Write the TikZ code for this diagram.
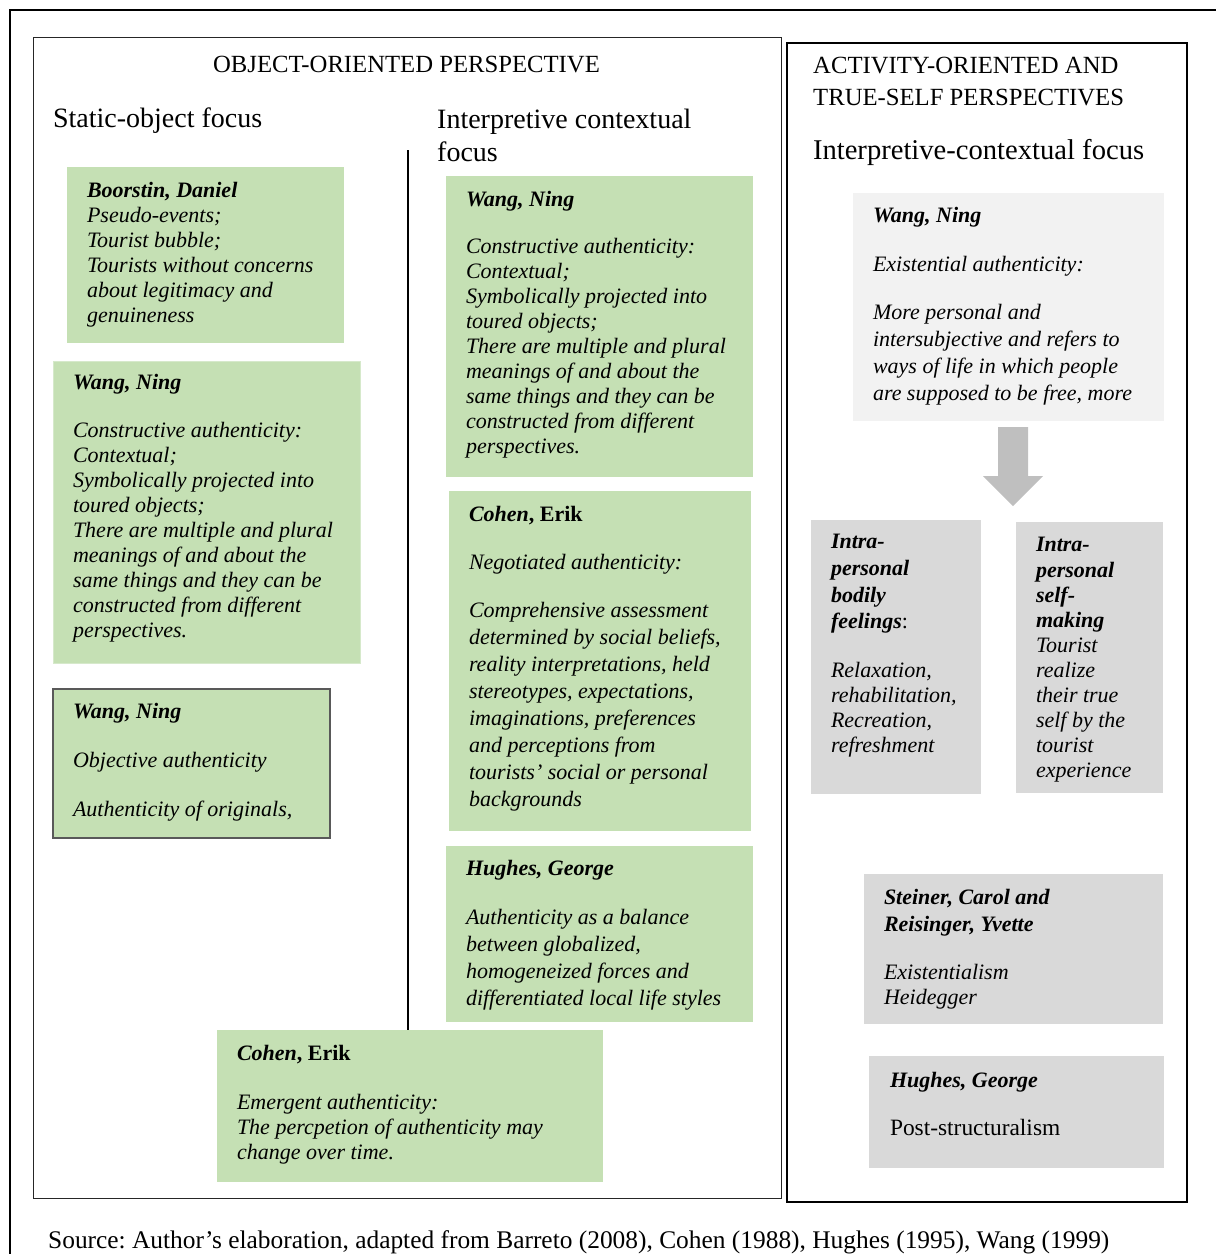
\documentclass[tikz,border=0pt]{standalone}
\usepackage{fontspec}
\setmainfont{Liberation Serif}
\frenchspacing
\definecolor{boxgreen}{HTML}{C5E0B4}
\definecolor{boxgray}{HTML}{D9D9D9}
\definecolor{boxpale}{HTML}{F2F2F2}
\definecolor{arrowgray}{HTML}{BFBFBF}
\definecolor{edgegray}{HTML}{595959}

\newcommand\capsfont{\fontsize{24.7pt}{32pt}\selectfont}
\newcommand\headfont{\fontsize{28pt}{33pt}\selectfont}
\newcommand\bodyfont[1]{\fontsize{22pt}{#1}\selectfont\itshape}
\newcommand\srcfont{\fontsize{25.4pt}{30pt}\selectfont}

\tikzset{
  panel/.style={anchor=north west, inner sep=0pt, outer sep=0pt, draw=none},
  greenpanel/.style={panel, fill=boxgreen},
  graypanel/.style={panel, fill=boxgray},
  palepanel/.style={panel, fill=boxpale},
  blocktext/.style={anchor=north west, inner sep=0pt, outer sep=0pt, align=left, font=\bodyfont{#1}},
  blocktext/.default=25pt,
  heading/.style={anchor=base west, inner sep=0pt, outer sep=0pt, font=\headfont},
}

\begin{document}
\begin{tikzpicture}[x=1pt, y=-1pt]
\useasboundingbox (0,0) rectangle (1216,1254);

% outer frame, open to the right and bottom
\draw[line width=2.8pt] (10,1254) -- (10,10) -- (1216,10);

% object-oriented panel
\draw[line width=1pt, black!85] (33,37) rectangle (781,1198);
% activity-oriented panel
\draw[line width=2.4pt] (787,43) rectangle (1187,1202);

% column divider
\coordinate (divtop) at (408,150);
\coordinate (divbot) at (408,1031);
\draw[line width=1.1pt] (divtop) -- (divbot);

% headings
\node[anchor=base, inner sep=0pt, font=\capsfont] (hobj) at (406.5,72) {OBJECT-ORIENTED PERSPECTIVE};
\node[heading] (hstatic) at (53,127) {Static-object focus};
\node[anchor=north west, inner sep=0pt, align=left, font=\headfont] (hinterp) at (437,104.9) {\strut Interpretive contextual\\ focus};
\node[anchor=north west, inner sep=0pt, align=left, font=\capsfont] (hact) at (813,50.6) {\strut ACTIVITY-ORIENTED AND\\ TRUE-SELF PERSPECTIVES};
\node[heading, font=\fontsize{28.6pt}{33pt}\selectfont] (hctx) at (813,159) {Interpretive-contextual focus};

% left column
\node[greenpanel, minimum width=277pt, minimum height=176pt] (boor) at (67,167) {};
\node[blocktext] (boort) at (87,179.5) {\strut\textbf{Boorstin, Daniel}\\ Pseudo-events;\\ Tourist bubble;\\ Tourists without concerns\\ about legitimacy and\\ genuineness};

\node[greenpanel, draw=boxgreen!70!white, minimum width=307pt, minimum height=302pt] (wanga) at (53,361) {};
\node[blocktext] (wangat) at (73,371.5) {\strut\textbf{Wang, Ning}\\[23pt] Constructive authenticity:\\ Contextual;\\ Symbolically projected into\\ toured objects;\\ There are multiple and plural\\ meanings of and about the\\ same things and they can be\\ constructed from different\\ perspectives.};

\node[greenpanel, draw=edgegray, line width=1.3pt, minimum width=277pt, minimum height=149pt] (wangobj) at (53,689) {};
\node[blocktext] (wangobjt) at (73,700.5) {\strut\textbf{Wang, Ning}\\[24pt] Objective authenticity\\[24pt] Authenticity of originals,};

% middle column
\node[greenpanel, minimum width=307pt, minimum height=301pt] (wangb) at (446,176) {};
\node[blocktext] (wangbt) at (466,188.5) {\strut\textbf{Wang, Ning}\\[22pt] Constructive authenticity:\\ Contextual;\\ Symbolically projected into\\ toured objects;\\ There are multiple and plural\\ meanings of and about the\\ same things and they can be\\ constructed from different\\ perspectives.};

\node[greenpanel, minimum width=302pt, minimum height=340pt] (cohenn) at (449,491) {};
\node[blocktext=27pt] (cohennt) at (469,502.1) {\strut\textbf{Cohen}\textbf{\upshape, Erik}\\[21pt] Negotiated authenticity:\\[21pt] Comprehensive assessment\\ determined by social beliefs,\\ reality interpretations, held\\ stereotypes, expectations,\\ imaginations, preferences\\ and perceptions from\\ tourists’ social or personal\\ backgrounds};

\node[greenpanel, minimum width=307pt, minimum height=176pt] (hughesa) at (446,846) {};
\node[blocktext=27pt] (hughesat) at (466,856.1) {\strut\textbf{Hughes, George}\\[22pt] Authenticity as a balance\\ between globalized,\\ homogeneized forces and\\ differentiated local life styles};

\node[greenpanel, minimum width=386pt, minimum height=152pt] (cohene) at (217,1030) {};
\node[blocktext] (cohenet) at (237,1042.5) {\strut\textbf{Cohen}\textbf{\upshape, Erik}\\[24pt] Emergent authenticity:\\ The percpetion of authenticity may\\ change over time.};

% right column
\node[palepanel, minimum width=311pt, minimum height=228pt] (wangc) at (853,193) {};
\node[blocktext=27pt] (wangct) at (873,203.6) {\strut\textbf{Wang, Ning}\\[22pt] Existential authenticity:\\[21pt] More personal and\\ intersubjective and refers to\\ ways of life in which people\\ are supposed to be free, more};

% block arrow below the existential panel
\fill[arrowgray] (998,427) -- (1028,427) -- (1028,476) -- (1043,476) -- (1013,506) -- (983,476) -- (998,476) -- cycle;

\node[graypanel, minimum width=170pt, minimum height=274pt] (bodily) at (811,520) {};
\node[blocktext] (bodilyt) at (831,530.5) {\strut\textbf{Intra-}\\[2pt] \textbf{personal}\\[2pt] \textbf{bodily}\\[1pt] \textbf{feelings}{\upshape :}\\[24pt] Relaxation,\\ rehabilitation,\\ Recreation,\\ refreshment};

\node[graypanel, minimum width=147pt, minimum height=271pt] (selfmk) at (1016,522) {};
\node[blocktext=25.1pt] (selfmkt) at (1036,534.4) {\strut\textbf{Intra-}\\ \textbf{personal}\\ \textbf{self-}\\ \textbf{making}\\ Tourist\\ realize\\ their true\\ self by the\\ tourist\\ experience};

\node[graypanel, minimum width=299pt, minimum height=150pt] (steiner) at (864,874) {};
\node[blocktext=27pt] (steinert) at (884,885.1) {\strut\textbf{Steiner, Carol and}\\ \textbf{Reisinger, Yvette}\\[21pt] Existentialism\\[-2pt] Heidegger};

\node[graypanel, minimum width=295pt, minimum height=112pt] (hughesb) at (869,1056) {};
\node[blocktext] (hughesbt) at (890,1069.5) {\strut\textbf{Hughes, George}\\[23pt] {\upshape\fontsize{23.4pt}{25pt}\selectfont Post-structuralism}};

% source line
\node[anchor=base west, inner sep=0pt, font=\srcfont] (source) at (48,1248) {Source: Author’s elaboration, adapted from Barreto (2008), Cohen (1988), Hughes (1995), Wang (1999)};
\end{tikzpicture}
\end{document}
